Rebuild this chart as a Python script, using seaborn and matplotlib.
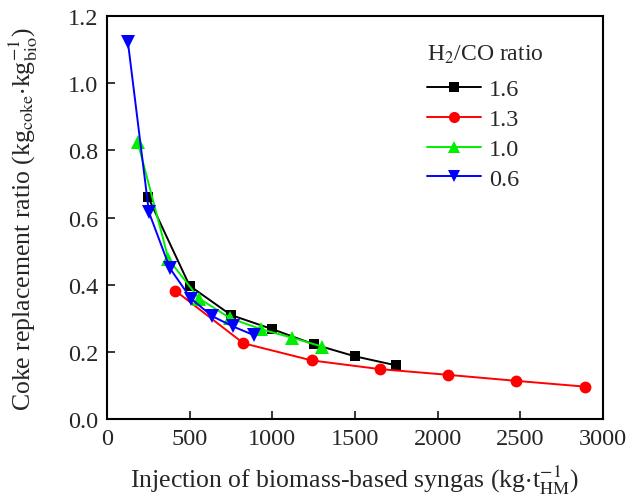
import matplotlib
matplotlib.use("Agg")
import matplotlib.pyplot as plt
from matplotlib.lines import Line2D
import pandas as pd
import seaborn as sns

# H2/CO ratio series: syngas injection (kg/tHM) vs coke replacement ratio
ratios = ["1.6", "1.3", "1.0", "0.6"]
x_16 = [250, 500, 750, 1000, 1250, 1500, 1750]
y_16 = [0.660, 0.397, 0.310, 0.268, 0.223, 0.187, 0.160]
x_13 = [412, 825, 1237, 1650, 2062, 2475, 2887]
y_13 = [0.383, 0.226, 0.175, 0.149, 0.132, 0.114, 0.097]
x_10 = [186, 372, 558, 744, 930, 1116, 1302]
y_10 = [0.825, 0.476, 0.359, 0.301, 0.268, 0.243, 0.216]
x_06 = [127, 254, 381, 508, 635, 762, 889]
y_06 = [1.122, 0.616, 0.449, 0.359, 0.307, 0.276, 0.250]

x_ticks = [0, 500, 1000, 1500, 2000, 2500, 3000]
y_ticks = [0.0, 0.2, 0.4, 0.6, 0.8, 1.0, 1.2]

series = {"1.6": (x_16, y_16), "1.3": (x_13, y_13),
          "1.0": (x_10, y_10), "0.6": (x_06, y_06)}
frames = [pd.DataFrame({"injection": xs, "crr": ys, "ratio": r})
          for r, (xs, ys) in series.items()]
df = pd.concat(frames, ignore_index=True)

colors = {"1.6": "#000000", "1.3": "#ff0000", "1.0": "#00ee00", "0.6": "#0000ff"}
markers = {"1.6": "s", "1.3": "o", "1.0": "^", "0.6": "v"}
msizes = {"1.6": 7.5, "1.3": 8.5, "1.0": 9.5, "0.6": 9.5}

sns.set_theme(style="ticks")
plt.rcParams["font.family"] = ["Liberation Serif", "DejaVu Serif"]
plt.rcParams["mathtext.fontset"] = "stix"

fig = plt.figure(figsize=(6.29, 5.02), dpi=100)
ax = fig.add_axes([0.170, 0.163, 0.789, 0.803])

sns.lineplot(data=df, x="injection", y="crr", hue="ratio", style="ratio",
             hue_order=ratios, style_order=ratios, palette=colors,
             markers=markers, dashes=False, legend=False, ax=ax,
             linewidth=1.4, markeredgewidth=0)
for line, r in zip(ax.get_lines(), ratios):
    line.set_markersize(msizes[r])

ax.set_xlim(0, 3000)
ax.set_ylim(0, 1.2)
ax.set_xticks(x_ticks)
ax.set_yticks(y_ticks)
ax.set_yticklabels([f"{v:.1f}" for v in y_ticks])
ax.tick_params(direction="in", length=6, width=1.3, labelsize=17.5, pad=6)
for sp in ax.spines.values():
    sp.set_linewidth(1.5)
    sp.set_color("black")

ax.set_xlabel(r"Injection of biomass-based syngas (kg$\cdot$t$_{\mathrm{HM}}^{-1}$)",
              fontsize=18.5, labelpad=10)
ax.set_ylabel(r"Coke replacement ratio (kg$_{\mathrm{coke}}$$\cdot$kg$_{\mathrm{bio}}^{-1}$)",
              fontsize=18.5, labelpad=20)

handles = [Line2D([], [], color=colors[r], marker=markers[r], markersize=msizes[r] - 0.5,
                  markeredgewidth=0, linewidth=1.4) for r in ratios]
leg = ax.legend(handles, ratios, title=r"H$_2$/CO ratio", frameon=False,
                loc="upper left", bbox_to_anchor=(0.645, 0.935), borderaxespad=0,
                borderpad=0, fontsize=17.5, title_fontsize=17,
                handlelength=2.2, handletextpad=0.35, labelspacing=0.32)
leg._legend_box.align = "left"
leg._legend_box.sep = 10

fig.savefig("out.png", dpi=100)
